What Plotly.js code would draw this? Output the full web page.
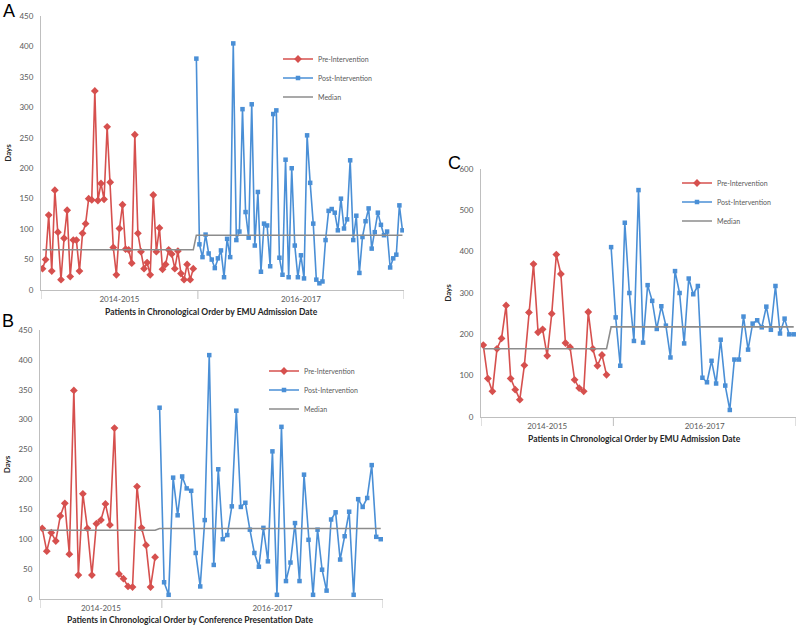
<!DOCTYPE html>
<html>
<head>
<meta charset="utf-8">
<script src="https://cdn.plot.ly/plotly-3.0.1.min.js"></script>
<style>html,body{margin:0;padding:0;background:#fff}#chart{width:800px;height:626px}</style>
</head>
<body>
<div id="chart"></div>
<script>
// ---- Data ----
const groupLabels = ['2014-2015', '2016-2017'];
const seriesNames = ['Pre-Intervention', 'Post-Intervention', 'Median'];

// Panel A: by EMU admission date
const aPre = [35,50,123,31,164,95,17,85,131,22,82,82,31,93,109,150,148,327,147,175,149,268,177,70,25,101,140,67,66,44,255,93,63,35,45,25,156,63,102,34,42,66,59,35,64,27,17,42,17,35];
const aPost = [380,75,54,91,60,50,36,52,65,21,84,54,405,82,96,297,128,86,305,73,161,30,109,106,39,289,295,53,25,214,21,200,73,21,57,19,254,176,109,17,11,14,82,130,133,127,98,150,101,116,213,82,122,28,87,113,134,68,95,127,107,90,96,37,52,58,139,98];
const aMedian = [66, 90];

// Panel B: by conference presentation date
const bPre = [118,80,111,97,139,160,75,349,40,176,118,40,126,132,159,124,286,42,34,21,20,188,119,90,20,70];
const bPost = [320,28,7,203,140,205,185,181,77,21,132,408,57,217,100,107,155,315,154,161,116,77,54,119,63,247,7,288,30,61,127,30,208,99,7,116,49,14,133,145,66,105,146,7,167,154,169,224,104,100];
const bMedian = [115, 118];

// Panel C: by EMU admission date
const cPre = [174,93,62,165,190,270,93,66,42,125,253,370,205,212,148,250,393,346,179,169,90,70,62,254,165,124,150,102];
const cPost = [411,241,124,470,300,184,549,180,319,281,213,268,221,144,353,300,178,335,297,317,95,84,136,81,187,76,17,139,139,243,163,226,234,217,267,211,317,202,238,200,200];
const cMedian = [165, 218];

// ---- Styles ----
const W = 800, H = 626;
const RED = '#D6504E', BLUE = '#4A8FD6', GRAY = '#8C8C8C', AXIS = '#BFBFBF';
const FONT = 'Lato, "Open Sans", sans-serif';

const panels = [
  {pre: aPre, post: aPost, med: aMedian, xa: 'x', ya: 'y', legend: 'legend',
   px: [41, 404], py: [16, 290], ymax: 450, dtick: 50,
   title: 'Patients in Chronological Order by EMU Admission Date', tx: 211, ty: 312,
   letter: 'A', lx: 8.5, ly: 11, legPos: [278, 78]},
  {pre: bPre, post: bPost, med: bMedian, xa: 'x2', ya: 'y2', legend: 'legend2',
   px: [40, 383], py: [330, 599], ymax: 450, dtick: 50,
   title: 'Patients in Chronological Order by Conference Presentation Date', tx: 190, ty: 620,
   letter: 'B', lx: 8, ly: 321, legPos: [264, 390]},
  {pre: cPre, post: cPost, med: cMedian, xa: 'x3', ya: 'y3', legend: 'legend3',
   px: [481, 796], py: [169, 417], ymax: 600, dtick: 100,
   title: 'Patients in Chronological Order by EMU Admission Date', tx: 634, ty: 439,
   letter: 'C', lx: 454, ly: 163, legPos: [677, 202]}
];

const traces = [];
const layout = {
  width: W, height: H,
  margin: {l: 0, r: 0, t: 0, b: 0},
  paper_bgcolor: '#fff', plot_bgcolor: '#fff',
  font: {family: FONT, color: '#595959'},
  showlegend: true,
  shapes: [], annotations: []
};

panels.forEach((p, i) => {
  const nPre = p.pre.length, nPost = p.post.length, n = nPre + nPost;
  const xPre = p.pre.map((_, k) => k + 1);
  const xPost = p.post.map((_, k) => nPre + k + 1);
  const xAll = xPre.concat(xPost);
  const yMed = xAll.map(x => x <= nPre ? p.med[0] : p.med[1]);

  traces.push({
    type: 'scatter', mode: 'lines+markers', name: seriesNames[0],
    x: xPre, y: p.pre, xaxis: p.xa, yaxis: p.ya, legend: p.legend,
    line: {color: RED, width: 1.6},
    marker: {symbol: 'diamond', size: 6, color: RED}
  });
  traces.push({
    type: 'scatter', mode: 'lines+markers', name: seriesNames[1],
    x: xPost, y: p.post, xaxis: p.xa, yaxis: p.ya, legend: p.legend,
    line: {color: BLUE, width: 1.6},
    marker: {symbol: 'square', size: 4.5, color: BLUE}
  });
  traces.push({
    type: 'scatter', mode: 'lines', name: seriesNames[2],
    x: xAll, y: yMed, xaxis: p.xa, yaxis: p.ya, legend: p.legend,
    line: {color: GRAY, width: 1.6}
  });

  const xk = i === 0 ? 'xaxis' : 'xaxis' + (i + 1);
  const yk = i === 0 ? 'yaxis' : 'yaxis' + (i + 1);
  const boundary = nPre + 1.5;
  layout[xk] = {
    domain: [p.px[0] / W, p.px[1] / W],
    anchor: p.ya,
    range: [0.5, n + 0.5],
    showgrid: false, zeroline: false,
    showline: true, linecolor: AXIS, linewidth: 1,
    tickvals: [(0.5 + boundary) / 2, (boundary + n + 0.5) / 2],
    ticktext: groupLabels,
    ticks: '', tickfont: {size: 8, color: '#595959', family: FONT},
    ticklabelstandoff: 1
  };
  layout[yk] = {
    domain: [1 - p.py[1] / H, 1 - p.py[0] / H],
    anchor: p.xa,
    range: [0, p.ymax], dtick: p.dtick,
    showgrid: false, zeroline: false,
    showline: true, linecolor: AXIS, linewidth: 1,
    ticks: '', tickfont: {size: 8, color: '#595959', family: FONT},
    ticklabelstandoff: 5,
    title: {text: '<b>Days</b>', font: {size: 8, color: '#262626', family: FONT}, standoff: 6}
  };
  // group divider tick marks
  [0.5, boundary, n + 0.5].forEach(xv => {
    layout.shapes.push({
      type: 'line', xref: p.xa, yref: p.ya + ' domain',
      x0: xv, x1: xv, y0: 0, y1: -9 / (p.py[1] - p.py[0]),
      line: {color: AXIS, width: 1}
    });
  });
  // axis title
  layout.annotations.push({
    xref: 'paper', yref: 'paper', x: p.tx / W, y: 1 - p.ty / H,
    xanchor: 'center', yanchor: 'middle', showarrow: false,
    text: '<b>' + p.title + '</b>', font: {size: 8.5, color: '#262626', family: FONT}
  });
  // panel letter
  layout.annotations.push({
    xref: 'paper', yref: 'paper', x: p.lx / W, y: 1 - p.ly / H,
    xanchor: 'center', yanchor: 'middle', showarrow: false,
    text: p.letter, font: {size: 18, color: '#000', family: 'Liberation Sans, Arial, sans-serif'}
  });
  layout[p.legend] = {
    x: p.legPos[0] / W, y: 1 - p.legPos[1] / H, xanchor: 'left', yanchor: 'middle',
    bgcolor: 'rgba(0,0,0,0)', borderwidth: 0,
    font: {size: 7, color: '#595959', family: FONT},
    traceorder: 'normal', itemwidth: 30
  };
});

Plotly.newPlot('chart', traces, layout, {displayModeBar: false, staticPlot: true});
</script>
</body>
</html>
